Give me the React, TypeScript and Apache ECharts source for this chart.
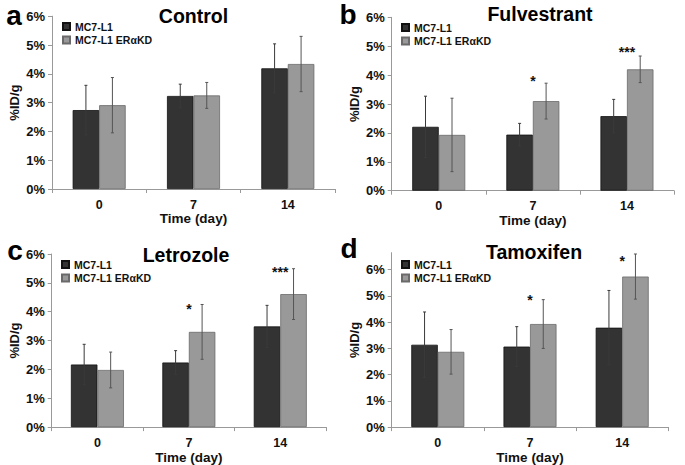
import React, { useEffect, useRef } from "react";
import * as echarts from "echarts";

// ---------- data ----------
const categories = ["0", "7", "14"];
const seriesNames = ["MC7-L1", "MC7-L1 ERαKD"];
const panelTitles = ["Control", "Fulvestrant", "Letrozole", "Tamoxifen"];
const panelLetters = ["a", "b", "c", "d"];

const ctrlL1 = [2.74, 3.23, 4.19];
const ctrlL1Err = [0.86, 0.41, 0.85];
const ctrlKD = [2.91, 3.25, 4.34];
const ctrlKDErr = [0.96, 0.45, 0.96];

const fulvL1 = [2.21, 1.94, 2.58];
const fulvL1Err = [1.06, 0.39, 0.58];
const fulvKD = [1.93, 3.1, 4.2];
const fulvKDErr = [1.27, 0.62, 0.46];

const letL1 = [2.17, 2.24, 3.49];
const letL1Err = [0.7, 0.41, 0.73];
const letKD = [1.98, 3.3, 4.61];
const letKDErr = [0.62, 0.95, 0.88];

const tamL1 = [3.14, 3.07, 3.79];
const tamL1Err = [1.25, 0.76, 1.42];
const tamKD = [2.87, 3.93, 5.74];
const tamKDErr = [0.85, 0.93, 0.86];

// significance stars: count per category and the height (%) they sit at
const ctrlStars = [0, 0, 0];
const ctrlStarY = [0, 0, 0];
const fulvStars = [0, 1, 3];
const fulvStarY = [0, 3.91, 4.89];
const letStars = [0, 1, 3];
const letStarY = [0, 4.21, 5.47];
const tamStars = [0, 1, 1];
const tamStarY = [0, 4.97, 6.44];

const yMaxes = [6, 6, 6, 6.65];

// ---------- layout / style ----------
const FONT = "'Liberation Sans', Arial, sans-serif";
const BAR_W = 26.5;
const DARK = "#333333";
const LIGHT = "#999999";

const grids = [
  { left: 52, top: 16.2, width: 283, height: 172.8 },
  { left: 391.7, top: 17.3, width: 282.3, height: 173.4 },
  { left: 51.7, top: 254, width: 274.3, height: 173.3 },
  { left: 391.7, top: 252.7, width: 276.6, height: 176.6 },
];
const titlePos = [
  [193.5, 16],
  [540, 14],
  [186, 255],
  [534, 252],
];
const letterPos = [
  [14, 15],
  [348, 14],
  [15, 250],
  [349, 248],
];
const legendPos = [
  [62, 21],
  [401, 22],
  [61, 259],
  [401, 259],
];

const panelData = [
  { l1: ctrlL1, l1e: ctrlL1Err, kd: ctrlKD, kde: ctrlKDErr, st: ctrlStars, sy: ctrlStarY },
  { l1: fulvL1, l1e: fulvL1Err, kd: fulvKD, kde: fulvKDErr, st: fulvStars, sy: fulvStarY },
  { l1: letL1, l1e: letL1Err, kd: letKD, kde: letKDErr, st: letStars, sy: letStarY },
  { l1: tamL1, l1e: tamL1Err, kd: tamKD, kde: tamKDErr, st: tamStars, sy: tamStarY },
];

function errRender(sign: number, color: string) {
  return (params: any, api: any) => {
    const cat = api.value(0);
    const v = api.value(1);
    const e = api.value(2);
    const x = api.coord([cat, v])[0] + (sign * BAR_W) / 2;
    const yt = api.coord([cat, v + e])[1];
    const yb = api.coord([cat, v - e])[1];
    const st = { stroke: color, lineWidth: 1 };
    return {
      type: "group",
      children: [
        { type: "line", shape: { x1: x, y1: yt, x2: x, y2: yb }, style: st },
        { type: "line", shape: { x1: x - 1.5, y1: yt, x2: x + 1.5, y2: yt }, style: st },
        { type: "line", shape: { x1: x - 1.5, y1: yb, x2: x + 1.5, y2: yb }, style: st },
      ],
    };
  };
}

function starRender(params: any, api: any) {
  const cat = api.value(0);
  const y = api.value(1);
  const n = api.value(2);
  const p = api.coord([cat, y]);
  const txt = "*".repeat(n);
  return {
    type: "text",
    x: p[0],
    y: p[1] + 3,
    style: {
      text: txt,
      font: `bold 14px ${FONT}`,
      fill: "#111",
      align: "center",
      verticalAlign: "middle",
      textAlign: "center",
      textVerticalAlign: "middle",
    },
  };
}

function buildOption() {
  const series: any[] = [];
  panelData.forEach((pd, i) => {
    series.push({
      type: "bar",
      name: seriesNames[0],
      xAxisIndex: i,
      yAxisIndex: i,
      data: pd.l1,
      barWidth: BAR_W,
      barGap: "0%",
      itemStyle: { color: DARK, borderColor: "#111", borderWidth: 0.8 },
      z: 2,
    });
    series.push({
      type: "bar",
      name: seriesNames[1],
      xAxisIndex: i,
      yAxisIndex: i,
      data: pd.kd,
      barWidth: BAR_W,
      barGap: "0%",
      itemStyle: { color: LIGHT, borderColor: "#6a6a6a", borderWidth: 0.8 },
      z: 2,
    });
    series.push({
      type: "custom",
      xAxisIndex: i,
      yAxisIndex: i,
      renderItem: errRender(-1, "#3a3a3a"),
      data: categories.map((c, k) => [k, pd.l1[k], pd.l1e[k]]),
      encode: { x: 0, y: 1 },
      z: 5,
      silent: true,
    });
    series.push({
      type: "custom",
      xAxisIndex: i,
      yAxisIndex: i,
      renderItem: errRender(1, "#555555"),
      data: categories.map((c, k) => [k, pd.kd[k], pd.kde[k]]),
      encode: { x: 0, y: 1 },
      z: 5,
      silent: true,
    });
    const starData = categories
      .map((c, k) => [k, pd.sy[k], pd.st[k]])
      .filter((d) => d[2] > 0);
    if (starData.length) {
      series.push({
        type: "custom",
        xAxisIndex: i,
        yAxisIndex: i,
        renderItem: starRender,
        data: starData,
        encode: { x: 0, y: 1 },
        z: 6,
        silent: true,
      });
    }
  });

  const graphics: any[] = [];
  panelTitles.forEach((t, i) => {
    graphics.push({
      type: "text",
      x: titlePos[i][0],
      y: titlePos[i][1],
      style: {
        text: t,
        font: `bold 19.5px ${FONT}`,
        fill: "#000",
        textAlign: "center",
        textVerticalAlign: "middle",
      },
    });
    graphics.push({
      type: "text",
      x: letterPos[i][0],
      y: letterPos[i][1],
      style: {
        text: panelLetters[i],
        font: `bold 28px ${FONT}`,
        fill: "#000",
        textAlign: "center",
        textVerticalAlign: "middle",
      },
    });
  });

  return {
    animation: false,
    backgroundColor: "#ffffff",
    grid: grids.map((g) => ({ ...g, containLabel: false })),
    legend: legendPos.map((p) => ({
      data: seriesNames,
      left: p[0],
      top: p[1],
      orient: "vertical",
      itemWidth: 7,
      itemHeight: 7,
      itemGap: 2.5,
      padding: 0,
      selectedMode: false,
      icon: "rect",
      textStyle: { fontSize: 10.5, fontWeight: "bold", color: "#111", fontFamily: FONT },
    })),
    xAxis: grids.map((g, i) => ({
      type: "category",
      gridIndex: i,
      data: categories,
      name: "Time (day)",
      nameLocation: "middle",
      nameGap: 22,
      nameTextStyle: { fontSize: 13.5, fontWeight: "bold", color: "#111", fontFamily: FONT },
      axisLine: { lineStyle: { color: "#999", width: 1 } },
      axisTick: { show: true, length: 4, lineStyle: { color: "#999" } },
      axisLabel: { fontSize: 12.5, fontWeight: "bold", color: "#111", margin: 9, fontFamily: FONT },
      splitLine: { show: false },
    })),
    yAxis: grids.map((g, i) => ({
      type: "value",
      gridIndex: i,
      min: 0,
      max: yMaxes[i],
      interval: 1,
      name: "%ID/g",
      nameLocation: "middle",
      nameGap: 31,
      nameRotate: 90,
      nameTextStyle: { fontSize: 13, fontWeight: "bold", color: "#111", fontFamily: FONT },
      axisLine: { show: true, lineStyle: { color: "#999", width: 1 } },
      axisTick: { show: true, length: 4, lineStyle: { color: "#999" } },
      axisLabel: {
        fontSize: 13,
        fontWeight: "bold",
        color: "#111",
        margin: 7,
        fontFamily: FONT,
        showMaxLabel: yMaxes[i] === 6,
        formatter: (v: number) => (Number.isInteger(v) ? `${v}%` : ""),
      },
      splitLine: { show: false },
    })),
    graphic: graphics,
    series,
  };
}

export default function App() {
  const ref = useRef<HTMLDivElement>(null);
  useEffect(() => {
    if (!ref.current) return;
    const chart = echarts.init(ref.current, undefined, { renderer: "svg" });
    chart.setOption(buildOption() as any);
    return () => chart.dispose();
  }, []);
  return (
    <div
      ref={ref}
      style={{ position: "absolute", left: 0, top: 0, width: 685, height: 465, background: "#fff" }}
    />
  );
}
